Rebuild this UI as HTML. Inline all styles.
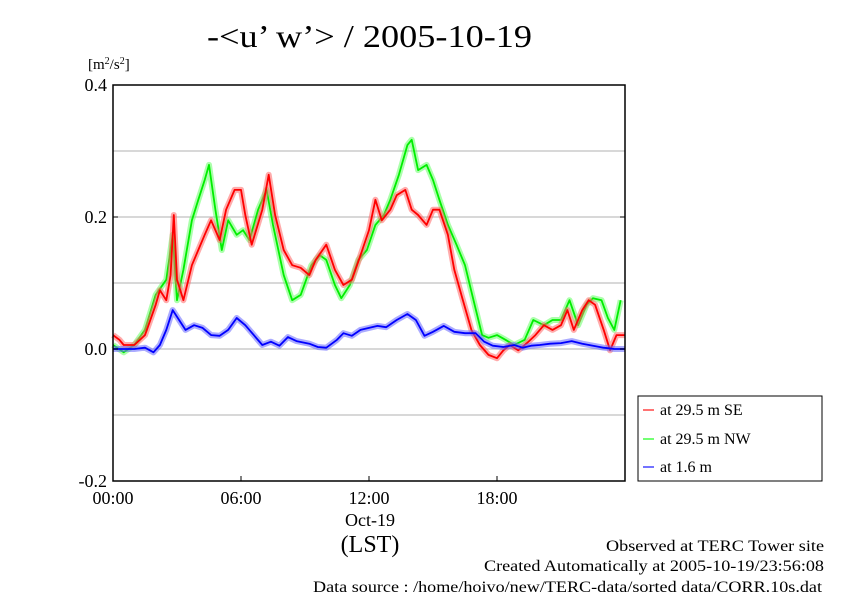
<!DOCTYPE html>
<html><head><meta charset="utf-8"><style>
body{margin:0;background:#fff;}
svg{display:block;font-family:"Liberation Serif",serif;}
</style></head><body>
<svg id="chart" width="842" height="595" viewBox="0 0 842 595">
<text x="207" y="47" font-size="32" textLength="325" lengthAdjust="spacingAndGlyphs">-&lt;u’ w’&gt; / 2005-10-19</text>
<text x="88" y="69" font-size="15">[m<tspan dy="-5" font-size="10">2</tspan><tspan dy="5">/s</tspan><tspan dy="-5" font-size="10">2</tspan><tspan dy="5">]</tspan></text>
<g id="grid"></g>
<g id="series"></g>
<rect x="113" y="85" width="512" height="396" fill="none" stroke="#000" stroke-width="1.5"/>
<g id="axes"></g>
<text x="370" y="526" font-size="18" text-anchor="middle">Oct-19</text>
<text x="370" y="552" font-size="24" text-anchor="middle">(LST)</text>
<g>
<rect x="638" y="396" width="184" height="85" fill="#fff" stroke="#000" stroke-width="1"/>
<g><line x1="643" x2="654" y1="410" y2="410" stroke="#f44" stroke-width="1.5"/><text x="660" y="415" font-size="16">at 29.5 m SE</text></g>
<g><line x1="643" x2="654" y1="439" y2="439" stroke="#4f4" stroke-width="1.5"/><text x="660" y="444" font-size="16">at 29.5 m NW</text></g>
<g><line x1="643" x2="654" y1="467" y2="467" stroke="#44f" stroke-width="1.5"/><text x="660" y="472" font-size="16">at 1.6 m</text></g>
</g>
<g font-size="16">
<text x="606" y="551" textLength="218" lengthAdjust="spacingAndGlyphs">Observed at TERC Tower site</text>
<text x="484" y="571" textLength="340" lengthAdjust="spacingAndGlyphs">Created Automatically at 2005-10-19/23:56:08</text>
<text x="313" y="592" textLength="509" lengthAdjust="spacingAndGlyphs">Data source : /home/hoivo/new/TERC-data/sorted  data/CORR.10s.dat</text>
</g>
</svg>
<script>
const yTicks=[0.4,0.2,0.0,-0.2];
const yTickLabels=["0.4","0.2","0.0","-0.2"];
const yGrid=[0.3,0.1,-0.1];
const xTicks=[0,6,12,18];
const xTickLabels=["00:00","06:00","12:00","18:00"];
const seHours=[0,0.3,0.5,1.0,1.5,2.0,2.2,2.5,2.7,2.85,3.0,3.3,3.7,4.0,4.3,4.6,5.0,5.3,5.7,6.0,6.2,6.5,7.0,7.3,7.6,8.0,8.4,8.8,9.2,9.5,10.0,10.4,10.8,11.2,11.6,12.0,12.3,12.6,13.0,13.3,13.7,14.0,14.3,14.7,15.0,15.3,15.7,16.0,16.4,16.8,17.2,17.6,18.0,18.3,18.6,19.0,19.4,19.8,20.2,20.6,21.0,21.3,21.6,22.0,22.3,22.6,23.0,23.3,23.6,24.0];
const seValues=[0.021,0.014,0.006,0.006,0.021,0.067,0.089,0.074,0.112,0.203,0.105,0.074,0.127,0.150,0.173,0.195,0.165,0.211,0.241,0.241,0.203,0.158,0.211,0.264,0.203,0.150,0.127,0.123,0.112,0.135,0.158,0.120,0.097,0.105,0.142,0.180,0.226,0.195,0.211,0.233,0.241,0.211,0.203,0.188,0.211,0.211,0.173,0.120,0.074,0.029,0.006,-0.009,-0.014,-0.002,0.006,-0.002,0.009,0.021,0.036,0.029,0.036,0.059,0.029,0.059,0.074,0.067,0.029,-0.002,0.021,0.021];
const nwHours=[0,0.5,1.0,1.5,2.0,2.5,2.8,3.0,3.3,3.7,4.0,4.3,4.5,4.8,5.1,5.4,5.8,6.1,6.4,6.8,7.2,7.5,8.0,8.4,8.8,9.3,9.7,10.0,10.4,10.7,11.1,11.5,11.9,12.3,12.7,13.0,13.4,13.8,14.0,14.3,14.7,15.0,15.3,15.7,16.1,16.5,16.9,17.3,17.6,18.0,18.4,18.8,19.3,19.7,20.2,20.6,21.0,21.4,21.8,22.2,22.5,22.9,23.2,23.5,23.8];
const nwValues=[0.006,-0.005,0.006,0.029,0.082,0.105,0.173,0.074,0.120,0.195,0.226,0.256,0.279,0.211,0.150,0.195,0.173,0.180,0.165,0.211,0.241,0.188,0.112,0.074,0.082,0.127,0.142,0.135,0.097,0.077,0.097,0.135,0.150,0.188,0.203,0.226,0.264,0.309,0.317,0.271,0.279,0.256,0.226,0.188,0.158,0.127,0.074,0.021,0.017,0.021,0.014,0.006,0.014,0.044,0.036,0.044,0.044,0.074,0.036,0.067,0.077,0.074,0.047,0.029,0.074];
const lowHours=[0,1.0,1.5,1.9,2.2,2.5,2.8,3.1,3.4,3.8,4.2,4.6,5.0,5.4,5.8,6.2,6.6,7.0,7.4,7.8,8.2,8.6,9.2,9.6,10.0,10.5,10.8,11.2,11.6,12.0,12.4,12.8,13.3,13.8,14.2,14.6,15.0,15.5,16.0,16.5,17.0,17.4,17.8,18.3,18.8,19.2,19.6,20.0,20.5,21.0,21.5,22.0,22.5,23.0,23.5,24.0];
const lowValues=[0.0,0.0,0.002,-0.005,0.006,0.029,0.059,0.044,0.029,0.036,0.032,0.021,0.020,0.029,0.047,0.036,0.021,0.006,0.011,0.005,0.018,0.012,0.008,0.003,0.002,0.014,0.024,0.020,0.029,0.032,0.035,0.033,0.044,0.053,0.044,0.020,0.026,0.035,0.026,0.024,0.024,0.011,0.005,0.003,0.006,0.002,0.005,0.006,0.008,0.009,0.012,0.008,0.005,0.002,0.0,0.0];

const X0=113,X1=625,Y0=349,PXV=660;
const xs=h=>X0+(X1-X0)*h/24;
const ys=v=>Y0-v*PXV;
const NS="http://www.w3.org/2000/svg";
function mk(tag,attrs,parent){const e=document.createElementNS(NS,tag);for(const k in attrs)e.setAttribute(k,attrs[k]);parent.appendChild(e);return e;}
const grid=document.getElementById('grid'),axes=document.getElementById('axes'),ser=document.getElementById('series');
yGrid.concat([0.0,0.2]).forEach(v=>{
  const l=mk('line',{x1:X0,x2:X1,y1:ys(v),y2:ys(v),stroke:'#b0b0b0','stroke-width':1},grid);
  
  
});
yTicks.forEach((v,i)=>{
  const t=mk('text',{x:X0-6,y:ys(v)+6,'font-size':18,'text-anchor':'end'},axes);
  t.textContent=yTickLabels[i];
  
  
  mk('line',{x1:X0,x2:X0+5,y1:ys(v),y2:ys(v),stroke:'#000'},axes);
  mk('line',{x1:X1-5,x2:X1,y1:ys(v),y2:ys(v),stroke:'#000'},axes);
});
xTicks.forEach((h,i)=>{
  const t=mk('text',{x:xs(h),y:504,'font-size':18,'text-anchor':'middle'},axes);
  t.textContent=xTickLabels[i];
  
  
  mk('line',{x1:xs(h),x2:xs(h),y1:481,y2:476,stroke:'#000'},axes);
});
function drawSeries(hours,vals,color,halo,name){
  const d=hours.map((h,i)=>(i?'L':'M')+xs(h).toFixed(1)+','+ys(vals[i]).toFixed(1)).join('');
  const g=mk('g',{},ser);
  
  
  mk('path',{d:d,fill:'none',stroke:halo,'stroke-width':6,'stroke-linejoin':'round','stroke-opacity':0.55},g);
  mk('path',{d:d,fill:'none',stroke:color,'stroke-width':1.8,'stroke-linejoin':'round'},g);
}
drawSeries(nwHours,nwValues,'#00ee00','#66ff66','series-29-5m-nw');
drawSeries(seHours,seValues,'#ff0000','#ff6666','series-29-5m-se');
drawSeries(lowHours,lowValues,'#0000ff','#6666ff','series-1-6m');
</script>
</body></html>
